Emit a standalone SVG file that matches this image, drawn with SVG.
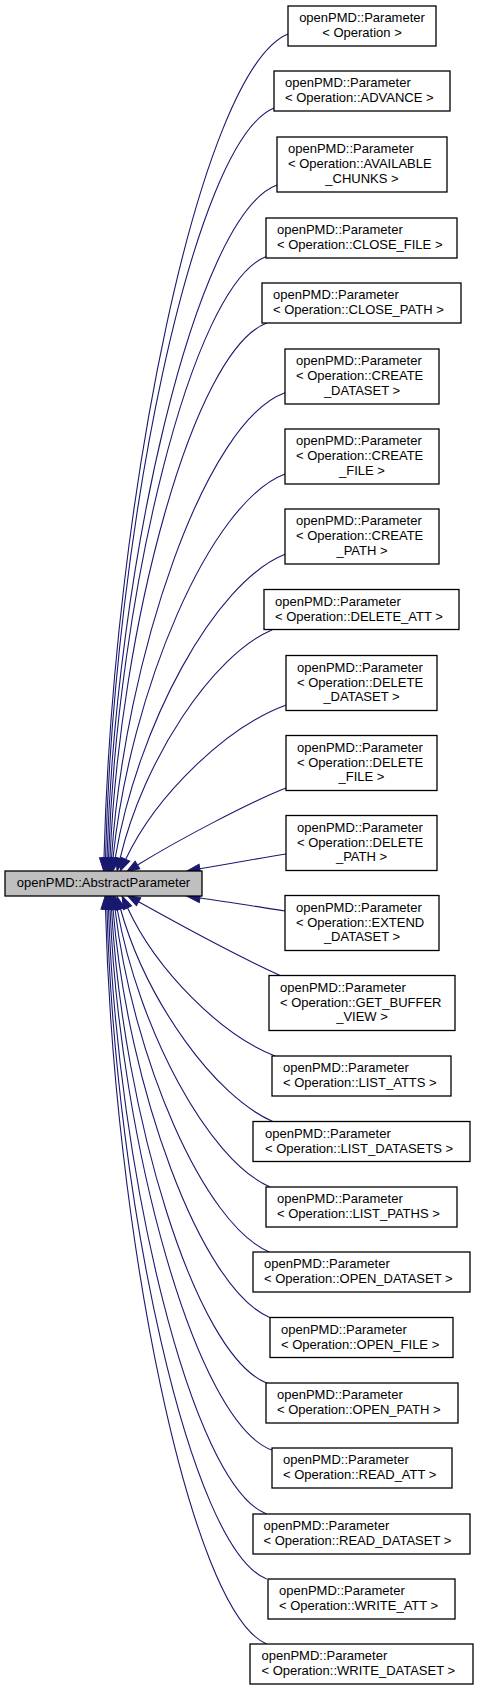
<svg xmlns="http://www.w3.org/2000/svg" width="479" height="1691" viewBox="0 0 479 1691">
<style>
.n rect{fill:#ffffff;stroke:#000000;stroke-width:1.3}
.m rect{fill:#bfbfbf;stroke:#000000;stroke-width:1.3}
text{font-family:"Liberation Sans",Arial,Helvetica,sans-serif;font-size:13px;fill:#000000}
.c{text-anchor:middle}
.e path{fill:none;stroke:#191970;stroke-width:1.1;marker-end:url(#ah)}
</style>
<defs>
<marker id="ah" markerUnits="userSpaceOnUse" markerWidth="13" markerHeight="9" viewBox="0 0 13 9" refX="0" refY="4.5" orient="auto" overflow="visible">
<path d="M0,0 L13,4.5 L0,9 z" fill="#191970" stroke="#191970" stroke-width="1"/>
</marker>
</defs>
<rect width="479" height="1691" fill="#ffffff"/>
<g id="edges" class="e">
<path d="M288,34 C199.7,70.4 113.2,501 104,858"/>
<path d="M274,108 C193.1,141.1 113.9,533.2 105.5,858"/>
<path d="M277,185 C195.4,214.7 115.5,566.7 107,858"/>
<path d="M266.3,256.5 C191.2,284.9 117.2,597.8 108.5,858"/>
<path d="M266.7,323 C193.2,350.9 120,626.7 110,858"/>
<path d="M285,392.7 C205.5,421 124.9,657 111.5,858"/>
<path d="M285,474 C209.3,502.6 130.2,692.4 113,858"/>
<path d="M285,554.3 C214.2,582.3 137.1,727.3 115.2,858"/>
<path d="M272.3,629.7 C212.3,655.3 143.4,760.1 120.1,858.4"/>
<path d="M286.3,705 C228,726.1 156.8,793.4 125.7,859.3"/>
<path d="M286,788 C250,802 178,840 137.5,865"/>
<path d="M286,854 C258,858.5 228,864 199.8,868.8"/>
<path d="M285,911 C256,906.5 228,902 199.9,898"/>
<path d="M280.7,975.7 C248,961 182,926 138.6,901.8"/>
<path d="M275,1056 C221.9,1035.5 156.6,971 127.5,907.8"/>
<path d="M273.3,1121.7 C214.5,1096.7 146.3,1000 120.5,909"/>
<path d="M270,1187 C207.7,1159.5 138.6,1028.5 117.2,909"/>
<path d="M269.3,1252 C203.1,1223.7 132.6,1056.8 115,909"/>
<path d="M270.7,1318 C200.4,1289.4 127.6,1085.5 113,909"/>
<path d="M266.7,1383 C195.3,1354.9 123.2,1113.8 111.5,909"/>
<path d="M271.7,1450 C195.7,1422 120.1,1142.9 110,909"/>
<path d="M266.7,1514 C191.2,1485.4 117,1170.8 108.5,909"/>
<path d="M266.7,1579 C190,1549.4 115,1199 107,909"/>
<path d="M266.7,1644 C189.3,1611.5 113.6,1227.3 105.5,909"/>
</g>
<g id="abstractparameter" class="m"><rect x="5" y="871" width="197" height="25"/><text class="c" x="103.5" y="886.5">openPMD::AbstractParameter</text></g>
<g id="p_operation" class="n"><rect x="288" y="6" width="148" height="40"/><text class="c" x="362" y="22.4">openPMD::Parameter</text><text class="c" x="362" y="37.2">&lt; Operation &gt;</text></g>
<g id="p_advance" class="n"><rect x="274" y="71" width="176" height="40"/><text x="285" y="87.4">openPMD::Parameter</text><text x="285" y="102.2">&lt; Operation::ADVANCE &gt;</text></g>
<g id="p_available_chunks" class="n"><rect x="277" y="137" width="170" height="55"/><text x="288" y="153.4">openPMD::Parameter</text><text x="288" y="168.2">&lt; Operation::AVAILABLE</text><text class="c" x="362" y="182.9">_CHUNKS &gt;</text></g>
<g id="p_close_file" class="n"><rect x="266" y="218" width="191" height="40"/><text x="277" y="234.4">openPMD::Parameter</text><text x="277" y="249.2">&lt; Operation::CLOSE_FILE &gt;</text></g>
<g id="p_close_path" class="n"><rect x="262" y="283" width="199" height="40"/><text x="273" y="299.4">openPMD::Parameter</text><text x="273" y="314.2">&lt; Operation::CLOSE_PATH &gt;</text></g>
<g id="p_create_dataset" class="n"><rect x="285" y="349" width="154" height="55"/><text x="296" y="365.4">openPMD::Parameter</text><text x="296" y="380.2">&lt; Operation::CREATE</text><text class="c" x="362" y="394.9">_DATASET &gt;</text></g>
<g id="p_create_file" class="n"><rect x="285" y="429" width="154" height="55"/><text x="296" y="445.4">openPMD::Parameter</text><text x="296" y="460.2">&lt; Operation::CREATE</text><text class="c" x="362" y="474.9">_FILE &gt;</text></g>
<g id="p_create_path" class="n"><rect x="285" y="509" width="154" height="55"/><text x="296" y="525.4">openPMD::Parameter</text><text x="296" y="540.2">&lt; Operation::CREATE</text><text class="c" x="362" y="554.9">_PATH &gt;</text></g>
<g id="p_delete_att" class="n"><rect x="264" y="589.5" width="195" height="40"/><text x="275" y="605.9">openPMD::Parameter</text><text x="275" y="620.7">&lt; Operation::DELETE_ATT &gt;</text></g>
<g id="p_delete_dataset" class="n"><rect x="286" y="655.5" width="151" height="55"/><text x="297" y="671.9">openPMD::Parameter</text><text x="297" y="686.7">&lt; Operation::DELETE</text><text class="c" x="361.5" y="701.4">_DATASET &gt;</text></g>
<g id="p_delete_file" class="n"><rect x="286" y="735.5" width="151" height="55"/><text x="297" y="751.9">openPMD::Parameter</text><text x="297" y="766.7">&lt; Operation::DELETE</text><text class="c" x="361.5" y="781.4">_FILE &gt;</text></g>
<g id="p_delete_path" class="n"><rect x="286" y="815.5" width="151" height="55"/><text x="297" y="831.9">openPMD::Parameter</text><text x="297" y="846.7">&lt; Operation::DELETE</text><text class="c" x="361.5" y="861.4">_PATH &gt;</text></g>
<g id="p_extend_dataset" class="n"><rect x="285" y="895.5" width="154" height="55"/><text x="296" y="911.9">openPMD::Parameter</text><text x="296" y="926.7">&lt; Operation::EXTEND</text><text class="c" x="362" y="941.4">_DATASET &gt;</text></g>
<g id="p_get_buffer_view" class="n"><rect x="269" y="975.5" width="186" height="55"/><text x="280" y="991.9">openPMD::Parameter</text><text x="280" y="1006.7">&lt; Operation::GET_BUFFER</text><text class="c" x="362" y="1021.4">_VIEW &gt;</text></g>
<g id="p_list_atts" class="n"><rect x="272" y="1056" width="179" height="40"/><text x="283" y="1072.4">openPMD::Parameter</text><text x="283" y="1087.2">&lt; Operation::LIST_ATTS &gt;</text></g>
<g id="p_list_datasets" class="n"><rect x="253" y="1121.5" width="217" height="40"/><text x="265" y="1137.9">openPMD::Parameter</text><text x="265" y="1152.7">&lt; Operation::LIST_DATASETS &gt;</text></g>
<g id="p_list_paths" class="n"><rect x="266" y="1187" width="191" height="40"/><text x="277" y="1203.4">openPMD::Parameter</text><text x="277" y="1218.2">&lt; Operation::LIST_PATHS &gt;</text></g>
<g id="p_open_dataset" class="n"><rect x="253" y="1252" width="217" height="40"/><text x="264" y="1268.4">openPMD::Parameter</text><text x="264" y="1283.2">&lt; Operation::OPEN_DATASET &gt;</text></g>
<g id="p_open_file" class="n"><rect x="270" y="1317.5" width="183" height="40"/><text x="281" y="1333.9">openPMD::Parameter</text><text x="281" y="1348.7">&lt; Operation::OPEN_FILE &gt;</text></g>
<g id="p_open_path" class="n"><rect x="266" y="1383" width="192" height="40"/><text x="277" y="1399.4">openPMD::Parameter</text><text x="277" y="1414.2">&lt; Operation::OPEN_PATH &gt;</text></g>
<g id="p_read_att" class="n"><rect x="272" y="1448" width="180" height="40"/><text x="283" y="1464.4">openPMD::Parameter</text><text x="283" y="1479.2">&lt; Operation::READ_ATT &gt;</text></g>
<g id="p_read_dataset" class="n"><rect x="253" y="1514" width="217" height="40"/><text x="263.5" y="1530.4">openPMD::Parameter</text><text x="263.5" y="1545.2">&lt; Operation::READ_DATASET &gt;</text></g>
<g id="p_write_att" class="n"><rect x="268" y="1579" width="187" height="40"/><text x="279" y="1595.4">openPMD::Parameter</text><text x="279" y="1610.2">&lt; Operation::WRITE_ATT &gt;</text></g>
<g id="p_write_dataset" class="n"><rect x="250" y="1644" width="223" height="40"/><text x="261.5" y="1660.4">openPMD::Parameter</text><text x="261.5" y="1675.2">&lt; Operation::WRITE_DATASET &gt;</text></g>
</svg>
